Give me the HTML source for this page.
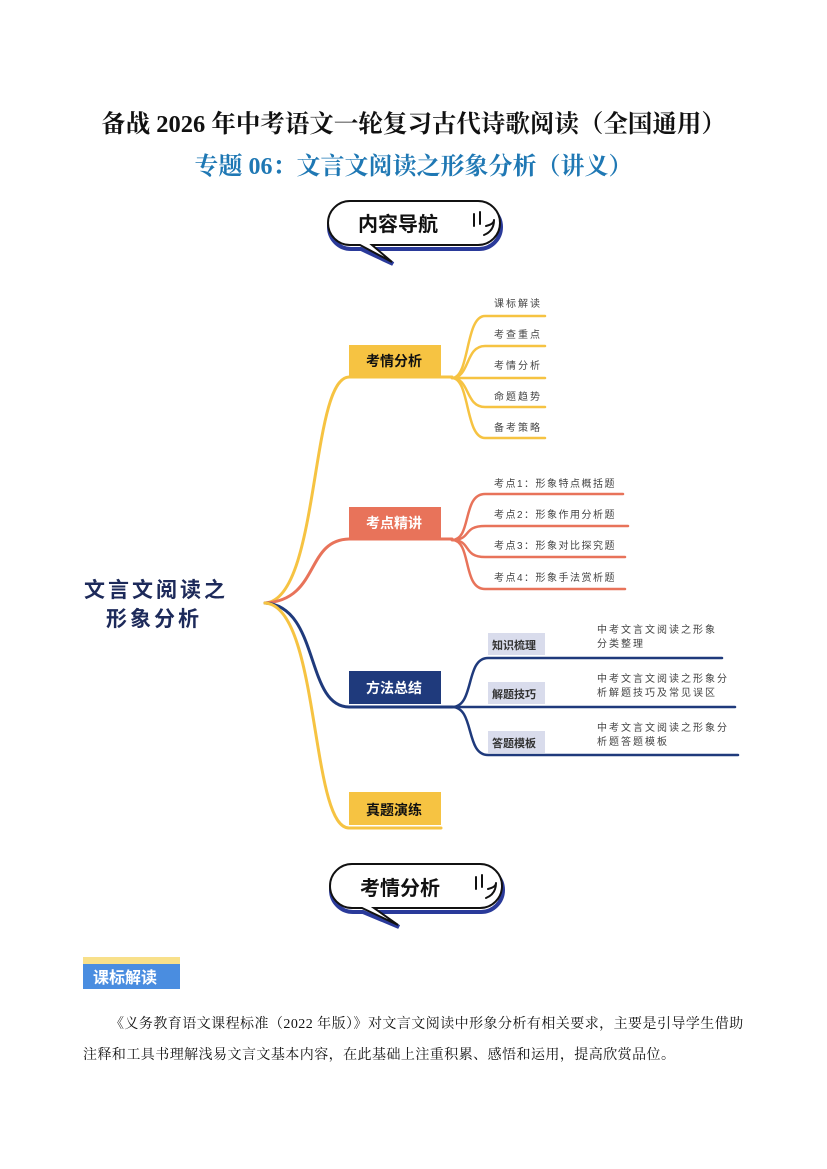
<!DOCTYPE html>
<html><head><meta charset="utf-8"><style>
body{margin:0;width:827px;height:1169px;background:#fff;position:relative;font-family:"Liberation Serif","Noto Serif CJK SC","Noto Sans CJK SC",serif;overflow:hidden}
.a{position:absolute;white-space:nowrap}
.s{font-family:"Liberation Sans","Noto Sans CJK SC",sans-serif}
.lbl{font-size:10px;color:#444;letter-spacing:2px}
</style></head><body>
<div class="a" style="left:0;width:827px;text-align:center;top:105px;font-size:24.5px;font-weight:bold;color:#111">备战 2026 年中考语文一轮复习古代诗歌阅读（全国通用）</div>
<div class="a" style="left:0;width:827px;text-align:center;top:146px;font-size:24px;font-weight:bold;color:#1f78b4">专题 06：文言文阅读之形象分析（讲义）</div>

<svg class="a" style="left:0;top:0" width="827" height="1169">
 <g fill="none" stroke-linecap="round">
  <path d="M350 203 H478 A22 22 0 0 1 478 247 H372 L392 262 L360 247 H350 A22 22 0 0 1 350 203 Z" fill="#fff" stroke="#2a3a9a" stroke-width="4" transform="translate(1,2)"/>
  <path d="M350 201 H478 A22 22 0 0 1 478 245 H372 L392 262 L360 245 H350 A22 22 0 0 1 350 201 Z" fill="#fff" stroke="#111" stroke-width="2"/>
  <path d="M474 214 v12 M480 212 v12 M486 226 q8 -2 8 -6 M484 235 q10 -4 10 -15" stroke="#111" stroke-width="2"/>
  <path d="M352 866 H480 A22 22 0 0 1 480 910 H374 L398 925 L362 910 H352 A22 22 0 0 1 352 866 Z" fill="#fff" stroke="#2a3a9a" stroke-width="4" transform="translate(1,2)"/>
  <path d="M352 864 H480 A22 22 0 0 1 480 908 H374 L398 925 L362 908 H352 A22 22 0 0 1 352 864 Z" fill="#fff" stroke="#111" stroke-width="2"/>
  <path d="M476 877 v12 M482 875 v12 M488 889 q8 -2 8 -6 M486 898 q10 -4 10 -15" stroke="#111" stroke-width="2"/>

  <path d="M265 603 C320 600 310 378 349 377 H452" stroke="#f6c342" stroke-width="3"/>
  <path d="M265 603 C320 600 305 540 349 539 H452" stroke="#e8735a" stroke-width="3"/>
  <path d="M265 603 C320 606 305 707 349 707 H452" stroke="#1f3a7c" stroke-width="3"/>
  <path d="M265 603 C320 606 310 828 349 828 H441" stroke="#f6c342" stroke-width="3"/>
  <g stroke="#f6c342" stroke-width="2.5">
   <path d="M452 378 C470 378 465 316 485 316 H545"/>
   <path d="M452 378 C470 378 465 346 485 346 H545"/>
   <path d="M452 378 H545"/>
   <path d="M452 378 C470 378 465 407 485 407 H545"/>
   <path d="M452 378 C470 378 465 438 485 438 H545"/>
  </g>
  <g stroke="#e8735a" stroke-width="2.5">
   <path d="M452 540 C472 540 462 494 485 494 H623"/>
   <path d="M452 540 C472 540 462 526 485 526 H628"/>
   <path d="M452 540 C472 540 462 557 485 557 H625"/>
   <path d="M452 540 C472 540 462 589 485 589 H625"/>
  </g>
  <g stroke="#1f3a7c" stroke-width="2.5">
   <path d="M452 707 C475 707 465 658 488 658 H722"/>
   <path d="M452 707 H735"/>
   <path d="M452 707 C475 707 465 755 488 755 H738"/>
  </g>
 </g>
 <rect x="349" y="345" width="92" height="31" fill="#f6c342"/>
 <rect x="349" y="507" width="92" height="31" fill="#e8735a"/>
 <rect x="349" y="671" width="92" height="33" fill="#1f3a7c"/>
 <rect x="349" y="792" width="92" height="33" fill="#f6c342"/>
 <rect x="488" y="633" width="57" height="22" fill="#d9dcec"/>
 <rect x="488" y="682" width="57" height="22" fill="#d9dcec"/>
 <rect x="488" y="731" width="57" height="22" fill="#d9dcec"/>
 <rect x="83" y="957" width="97" height="7" fill="#f8e08a"/>
 <rect x="83" y="964" width="97" height="25" fill="#4a8de0"/>
</svg>

<div class="a s" style="left:358px;top:208px;font-size:20px;font-weight:bold;color:#111">内容导航</div>
<div class="a s" style="left:360px;top:872px;font-size:20px;font-weight:bold;color:#111">考情分析</div>

<div class="a s" style="left:84px;top:574px;font-size:21px;font-weight:bold;color:#1d2a5a;letter-spacing:3px">文言文阅读之</div>
<div class="a s" style="left:106px;top:603px;font-size:21px;font-weight:bold;color:#1d2a5a;letter-spacing:3px">形象分析</div>

<div class="a s" style="left:366px;top:351px;font-size:14px;font-weight:bold;color:#111">考情分析</div>
<div class="a s" style="left:366px;top:513px;font-size:14px;font-weight:bold;color:#fff">考点精讲</div>
<div class="a s" style="left:366px;top:678px;font-size:14px;font-weight:bold;color:#fff">方法总结</div>
<div class="a s" style="left:366px;top:800px;font-size:14px;font-weight:bold;color:#111">真题演练</div>

<div class="a s lbl" style="left:494px;top:295px">课标解读</div>
<div class="a s lbl" style="left:494px;top:326px">考查重点</div>
<div class="a s lbl" style="left:494px;top:357px">考情分析</div>
<div class="a s lbl" style="left:494px;top:388px">命题趋势</div>
<div class="a s lbl" style="left:494px;top:419px">备考策略</div>

<div class="a s lbl" style="left:494px;top:475px;letter-spacing:1.5px">考点1：形象特点概括题</div>
<div class="a s lbl" style="left:494px;top:506px;letter-spacing:1.5px">考点2：形象作用分析题</div>
<div class="a s lbl" style="left:494px;top:537px;letter-spacing:1.5px">考点3：形象对比探究题</div>
<div class="a s lbl" style="left:494px;top:569px;letter-spacing:1.5px">考点4：形象手法赏析题</div>

<div class="a s" style="left:492px;top:637px;font-size:11px;font-weight:bold;color:#333">知识梳理</div>
<div class="a s" style="left:492px;top:686px;font-size:11px;font-weight:bold;color:#333">解题技巧</div>
<div class="a s" style="left:492px;top:735px;font-size:11px;font-weight:bold;color:#333">答题模板</div>

<div class="a s lbl" style="left:597px;top:624px;line-height:14px">中考文言文阅读之形象<br>分类整理</div>
<div class="a s lbl" style="left:597px;top:673px;line-height:14px">中考文言文阅读之形象分<br>析解题技巧及常见误区</div>
<div class="a s lbl" style="left:597px;top:722px;line-height:14px">中考文言文阅读之形象分<br>析题答题模板</div>

<div class="a s" style="left:93px;top:964px;font-size:16px;font-weight:bold;color:#fff">课标解读</div>

<div class="a" style="left:110px;top:1013px;font-size:14px;color:#111;letter-spacing:0.45px">《义务教育语文课程标准（2022 年版）》对文言文阅读中形象分析有相关要求，主要是引导学生借助</div>
<div class="a" style="left:83px;top:1044px;font-size:14px;color:#111;letter-spacing:0.45px">注释和工具书理解浅易文言文基本内容，在此基础上注重积累、感悟和运用，提高欣赏品位。</div>
</body></html>
